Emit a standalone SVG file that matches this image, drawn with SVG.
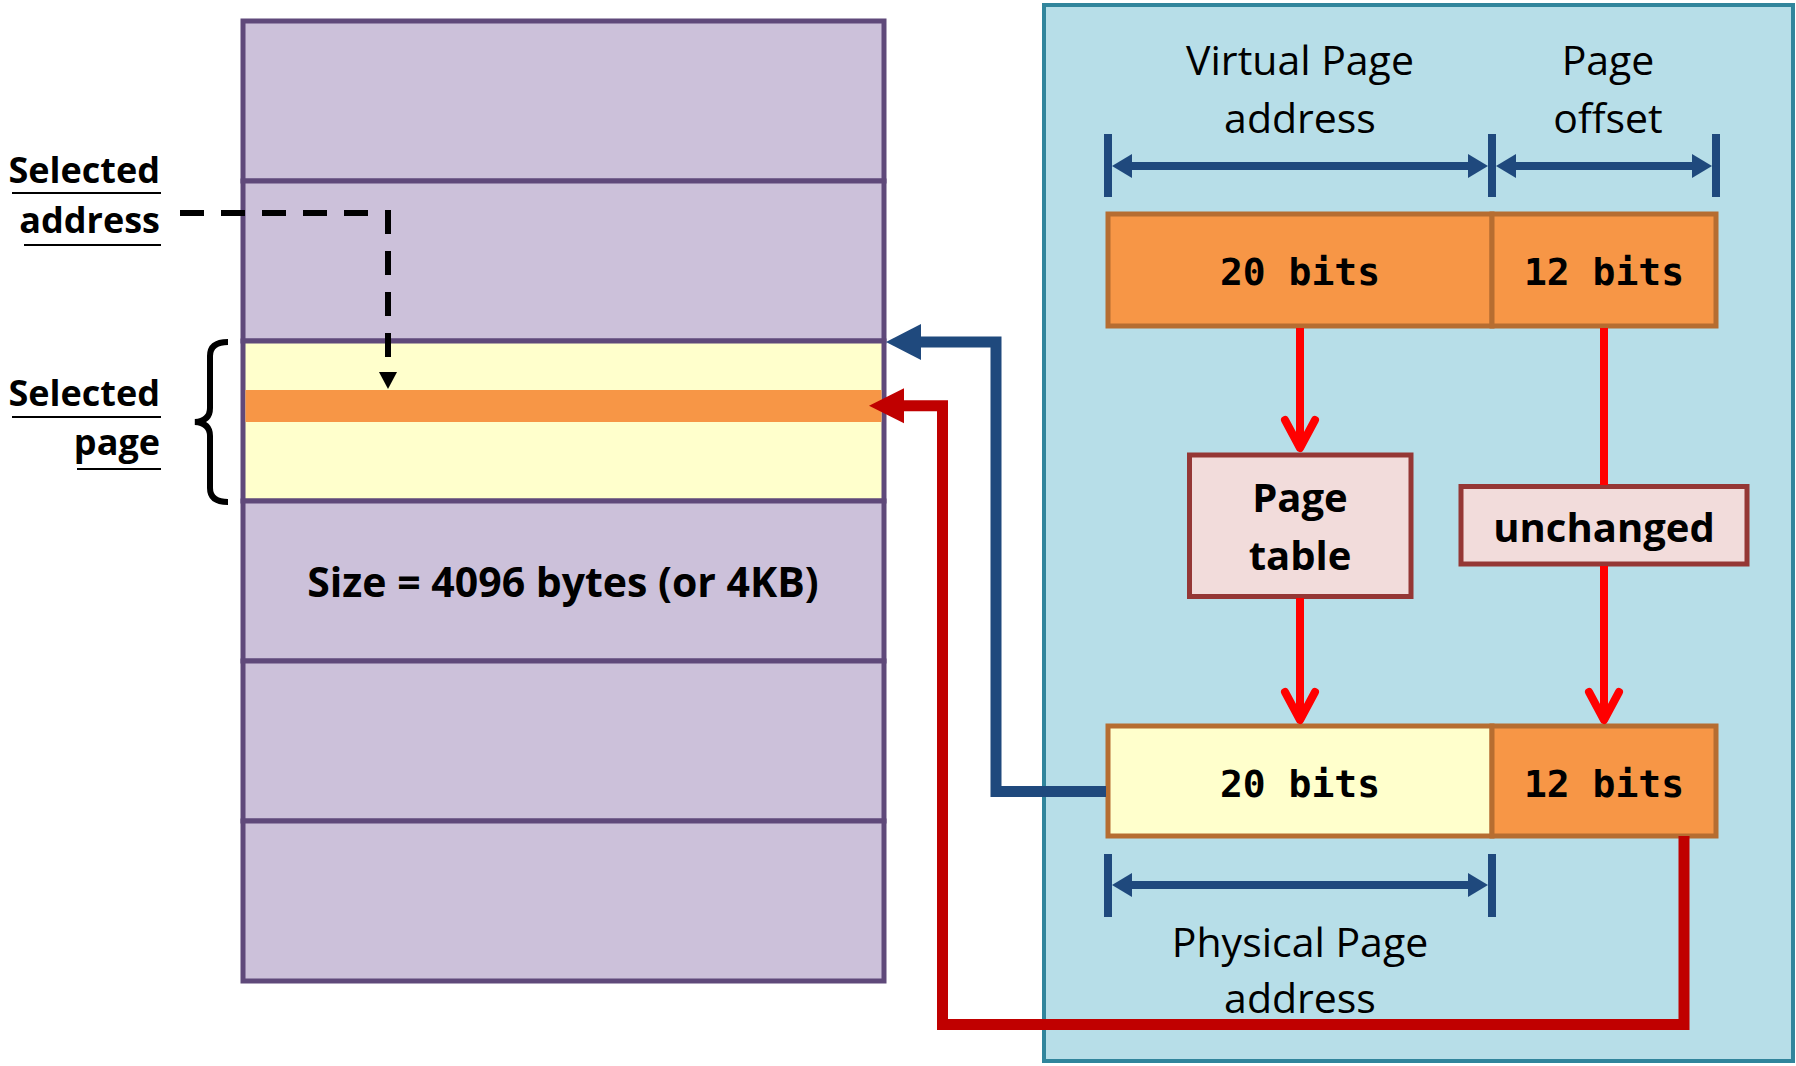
<svg xmlns="http://www.w3.org/2000/svg" width="1796" height="1066" viewBox="0 0 1796 1066">
  <style>
    .mem { fill: #ccc1da; stroke: #5f497a; stroke-width: 5; }
    .lbl { font-family: "Open Sans", "Liberation Sans", sans-serif; font-weight: bold; font-size: 36px; fill: #000; text-anchor: end; }
    .ul { stroke: #000; stroke-width: 2; }
    .big { font-family: "Open Sans", "Liberation Sans", sans-serif; font-weight: bold; font-size: 41px; fill: #000; text-anchor: middle; }
    .hdr { font-family: "Open Sans", "Liberation Sans", sans-serif; font-size: 41px; fill: #000; text-anchor: middle; }
    .bits { font-family: "DejaVu Sans Mono", "Liberation Mono", monospace; font-weight: bold; font-size: 38px; fill: #000; text-anchor: middle; }
    .box { font-family: "Open Sans", "Liberation Sans", sans-serif; font-weight: bold; font-size: 40px; fill: #000; text-anchor: middle; }
    .field { stroke: #b66d31; stroke-width: 5; }
    .pink { fill: #f2dcdb; stroke: #953735; stroke-width: 5; }
    .dim { stroke: #1f497d; stroke-width: 8; fill: none; }
    .red { stroke: #ff0000; stroke-width: 8; fill: none; }
  </style>
  <defs>
    <marker id="dimArrow" markerUnits="userSpaceOnUse" viewBox="0 0 20 24" refX="10" refY="12" markerWidth="20" markerHeight="24" orient="auto-start-reverse" overflow="visible">
      <path d="M0 0 L20 12 L0 24 Z" fill="#1f497d"/>
    </marker>
    <marker id="vArrow" markerUnits="userSpaceOnUse" viewBox="-32 -20 40 40" refX="0" refY="0" markerWidth="40" markerHeight="40" orient="auto" overflow="visible">
      <path d="M-28 -15 L0 0 L-28 15" fill="none" stroke="#ff0000" stroke-width="8" stroke-linecap="round" stroke-linejoin="round"/>
    </marker>
    <marker id="blueHead" markerUnits="userSpaceOnUse" viewBox="0 0 35 36" refX="1" refY="18" markerWidth="35" markerHeight="36" orient="auto" overflow="visible">
      <path d="M0 0 L35 18 L0 36 Z" fill="#1f497d"/>
    </marker>
    <marker id="redHead" markerUnits="userSpaceOnUse" viewBox="0 0 35 35" refX="1" refY="17.5" markerWidth="35" markerHeight="35" orient="auto" overflow="visible">
      <path d="M0 0 L35 17.5 L0 35 Z" fill="#c00000"/>
    </marker>
  </defs>

  <!-- Right panel -->
  <g id="panel">
    <rect x="1044" y="5" width="749" height="1056" fill="#b7dee8" stroke="#31859c" stroke-width="4"/>
  </g>

  <!-- Memory column -->
  <g id="memory">
    <g id="row1"><rect class="mem" x="243" y="21" width="641" height="160"/></g>
    <g id="row2"><rect class="mem" x="243" y="181" width="641" height="160"/></g>
    <g id="row3-selected-page">
      <rect x="243" y="341" width="641" height="160" fill="#ffffcc" stroke="#5f497a" stroke-width="5"/>
      <rect x="245.5" y="390" width="636" height="32" fill="#f79646"/>
    </g>
    <g id="row4">
      <rect class="mem" x="243" y="501" width="641" height="160"/>
      <text class="big" x="563" y="597">Size = 4096 bytes (or 4KB)</text>
    </g>
    <g id="row5"><rect class="mem" x="243" y="661" width="641" height="160"/></g>
    <g id="row6"><rect class="mem" x="243" y="821" width="641" height="160"/></g>
  </g>

  <!-- Left labels -->
  <g id="label-selected-address">
    <text class="lbl" x="160" y="183">Selected</text>
    <line class="ul" x1="12" y1="193" x2="161" y2="193"/>
    <text class="lbl" x="160" y="233">address</text>
    <line class="ul" x1="24" y1="245" x2="161" y2="245"/>
  </g>
  <g id="label-selected-page">
    <text class="lbl" x="160" y="406">Selected</text>
    <line class="ul" x1="12" y1="417" x2="161" y2="417"/>
    <text class="lbl" x="160" y="455">page</text>
    <line class="ul" x1="77" y1="469" x2="161" y2="469"/>
    <path d="M228 342 Q210 342 210 356 V408 Q210 421 195 422 Q210 423 210 436 V488 Q210 502 228 502" fill="none" stroke="#000" stroke-width="6"/>
  </g>

  <!-- Virtual address header -->
  <g id="virtual-header">
    <text class="hdr" x="1300" y="75">Virtual Page</text>
    <text class="hdr" x="1300" y="133">address</text>
    <text class="hdr" x="1608" y="75">Page</text>
    <text class="hdr" x="1608" y="133">offset</text>
    <line class="dim" x1="1108" y1="134" x2="1108" y2="197"/>
    <line class="dim" x1="1492" y1="134" x2="1492" y2="197"/>
    <line class="dim" x1="1716" y1="134" x2="1716" y2="197"/>
    <line class="dim" x1="1122" y1="166" x2="1478" y2="166" marker-start="url(#dimArrow)" marker-end="url(#dimArrow)"/>
    <line class="dim" x1="1506" y1="166" x2="1702" y2="166" marker-start="url(#dimArrow)" marker-end="url(#dimArrow)"/>
  </g>

  <!-- Virtual address fields -->
  <g id="virtual-20bits">
    <rect class="field" x="1108" y="214" width="384" height="112" fill="#f79646"/>
    <text class="bits" x="1300" y="285">20 bits</text>
  </g>
  <g id="virtual-12bits">
    <rect class="field" x="1492" y="214" width="224" height="112" fill="#f79646"/>
    <text class="bits" x="1604" y="285">12 bits</text>
  </g>

  <!-- Middle boxes -->
  <g id="page-table">
    <rect class="pink" x="1189.5" y="455" width="221.5" height="141.5"/>
    <text class="box" x="1300" y="512">Page</text>
    <text class="box" x="1300" y="570">table</text>
  </g>
  <g id="unchanged">
    <rect class="pink" x="1461" y="486.5" width="286" height="77.5"/>
    <text class="box" x="1604" y="542">unchanged</text>
  </g>

  <!-- Physical address fields -->
  <g id="physical-20bits">
    <rect class="field" x="1108" y="726" width="384" height="110" fill="#ffffcc"/>
    <text class="bits" x="1300" y="797">20 bits</text>
  </g>
  <g id="physical-12bits">
    <rect class="field" x="1492" y="726" width="224" height="110" fill="#f79646"/>
    <text class="bits" x="1604" y="797">12 bits</text>
  </g>

  <!-- Physical header -->
  <g id="physical-header">
    <line class="dim" x1="1108" y1="854" x2="1108" y2="917"/>
    <line class="dim" x1="1492" y1="854" x2="1492" y2="917"/>
    <line class="dim" x1="1122" y1="885" x2="1478" y2="885" marker-start="url(#dimArrow)" marker-end="url(#dimArrow)"/>
    <text class="hdr" x="1300" y="957">Physical Page</text>
    <text class="hdr" x="1300" y="1013">address</text>
  </g>

  <!-- Connectors -->
  <g id="connectors">
    <path d="M180 213 H388 V372" fill="none" stroke="#000" stroke-width="6" stroke-dasharray="24 17"/>
    <polygon points="379,372 397,372 388,389" fill="#000"/>
    <line class="red" x1="1300" y1="328" x2="1300" y2="448" marker-end="url(#vArrow)"/>
    <line class="red" x1="1300" y1="598" x2="1300" y2="720" marker-end="url(#vArrow)"/>
    <line class="red" x1="1604" y1="328" x2="1604" y2="485"/>
    <line class="red" x1="1604" y1="566" x2="1604" y2="720" marker-end="url(#vArrow)"/>
    <path d="M1106 791.5 H996 V342 H920" fill="none" stroke="#1f497d" stroke-width="11" marker-end="url(#blueHead)"/>
    <path d="M1684 836 V1024.5 H942.5 V405.8 H903" fill="none" stroke="#c00000" stroke-width="11" marker-end="url(#redHead)"/>
  </g>
</svg>
